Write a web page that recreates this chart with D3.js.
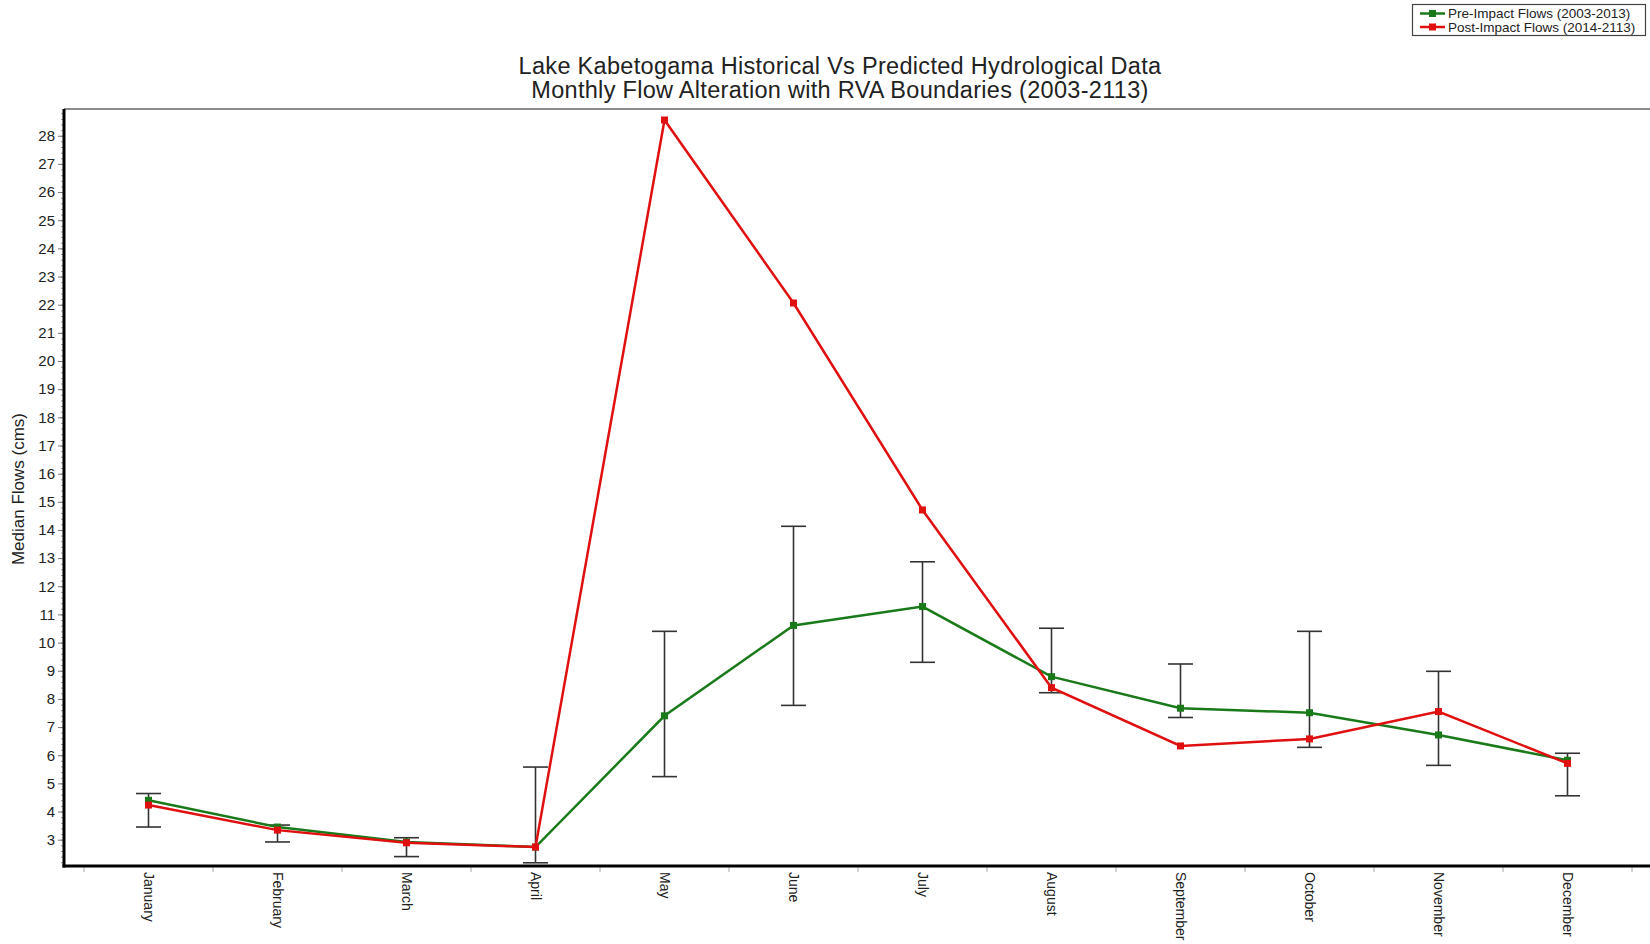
<html>
<head>
<title>Lake Kabetogama</title>
<script src="https://d3js.org/d3.v7.min.js"></script>
<style>
  body { margin: 0; background: white; }
  text { font-family: "Liberation Sans", Arial, sans-serif; fill: #222; }
  .minor line { stroke: #999; }
</style>
</head>
<body>
<svg id="chart" width="1650" height="944"></svg>
<script>
  const months = ["January","February","March","April","May","June","July","August","September","October","November","December"];
  const preFlow  = [4.40, 3.45, 2.92, 2.74, 7.40, 10.61, 11.28, 8.79, 7.67, 7.51, 6.72, 5.82];
  const postFlow = [4.23, 3.34, 2.89, 2.74, 28.56, 22.06, 14.71, 8.40, 6.33, 6.58, 7.55, 5.71];
  const rvaLow   = [3.45, 2.92, 2.40, 2.18, 5.24, 7.77, 9.30, 8.22, 7.34, 6.28, 5.64, 4.56];
  const rvaHigh  = [4.64, 3.52, 3.07, 5.58, 10.40, 14.13, 12.87, 10.51, 9.24, 10.40, 8.98, 6.07];
  const yTicks = d3.range(3, 29);
  const titleLines = ["Lake Kabetogama Historical Vs Predicted Hydrological Data",
                      "Monthly Flow Alteration with RVA Boundaries (2003-2113)"];
  const legendItems = [
    {name: "Pre-Impact Flows (2003-2013)", color: "#1a7a1a"},
    {name: "Post-Impact Flows (2014-2113)", color: "#e01010"}
  ];

  const svg = d3.select("#chart");
  const plot = {left: 64, top: 109, right: 1650, bottom: 866};

  const x = d3.scaleBand().domain(months).range([84, 1632]);
  const y = d3.scaleLinear().domain([2.066, 28.95]).range([plot.bottom, plot.top]);

  // title
  svg.append("g").selectAll("text").data(titleLines).join("text")
    .attr("x", 840).attr("y", (d, i) => 74 + i * 24)
    .attr("text-anchor", "middle")
    .style("font-size", "23.5px")
    .style("letter-spacing", "0.3px")
    .text(d => d);

  // top frame line
  svg.append("line")
    .attr("x1", plot.left).attr("x2", plot.right)
    .attr("y1", plot.top).attr("y2", plot.top)
    .attr("stroke", "#666").attr("stroke-width", 1.5);

  // minor y ticks
  svg.append("g").attr("class", "minor")
    .attr("transform", "translate(" + plot.left + ",0)")
    .call(d3.axisLeft(y).tickValues(d3.range(2.2, 28.9, 0.2)).tickSize(3).tickFormat(""))
    .call(g => g.select(".domain").remove())
    .selectAll("line").attr("stroke", "#aaa");

  // y axis
  const yAxis = svg.append("g")
    .attr("transform", "translate(" + plot.left + ",0)")
    .call(d3.axisLeft(y).tickValues(yTicks).tickSize(6).tickPadding(3).tickFormat(d3.format("d")));
  yAxis.select(".domain").remove();
  yAxis.selectAll(".tick line").attr("stroke", "#777");
  yAxis.selectAll("text").style("font-size", "15px").attr("fill", "#222");

  // x axis labels
  const xAxis = svg.append("g")
    .attr("transform", "translate(0," + plot.bottom + ")")
    .call(d3.axisBottom(x).tickSize(0).tickPadding(0));
  xAxis.select(".domain").remove();
  xAxis.selectAll("text")
    .style("font-size", "14px")
    .attr("fill", "#222")
    .attr("text-anchor", "start")
    .attr("dy", "0.35em")
    .attr("transform", "translate(0,6) rotate(90)");

  // boundary ticks on x axis
  const bounds = months.map(m => x(m)).concat([x.range()[1]]);
  svg.append("g").selectAll("line").data(bounds).join("line")
    .attr("x1", d => d).attr("x2", d => d)
    .attr("y1", plot.bottom).attr("y2", plot.bottom + 6)
    .attr("stroke", "#aaa").attr("stroke-width", 1);

  // axis lines
  svg.append("line")
    .attr("x1", plot.left).attr("x2", plot.left)
    .attr("y1", plot.top).attr("y2", plot.bottom + 1.5)
    .attr("stroke", "#000").attr("stroke-width", 3);
  svg.append("line")
    .attr("x1", plot.left - 1.5).attr("x2", plot.right)
    .attr("y1", plot.bottom).attr("y2", plot.bottom)
    .attr("stroke", "#000").attr("stroke-width", 3);

  // y label
  svg.append("text")
    .attr("transform", "translate(24,489) rotate(-90)")
    .attr("text-anchor", "middle")
    .style("font-size", "17px")
    .attr("fill", "#333")
    .text("Median Flows (cms)");

  const cx = m => x(m) + x.bandwidth() / 2;

  // RVA error bars
  const bars = svg.append("g").attr("stroke", "#333").attr("stroke-width", 1.6);
  months.forEach((m, i) => {
    bars.append("line").attr("x1", cx(m)).attr("x2", cx(m))
      .attr("y1", y(rvaLow[i])).attr("y2", y(rvaHigh[i]));
    [rvaLow[i], rvaHigh[i]].forEach(v => {
      bars.append("line").attr("x1", cx(m) - 12.5).attr("x2", cx(m) + 12.5)
        .attr("y1", y(v)).attr("y2", y(v));
    });
  });

  const line = d3.line().x((d, i) => cx(months[i])).y(d => y(d));
  const series = [
    {values: preFlow, color: legendItems[0].color},
    {values: postFlow, color: legendItems[1].color}
  ];
  series.forEach(s => {
    svg.append("path").datum(s.values)
      .attr("fill", "none").attr("stroke", s.color).attr("stroke-width", 2.5)
      .attr("d", line);
    svg.append("g").selectAll("rect").data(s.values).join("rect")
      .attr("x", (d, i) => cx(months[i]) - 3.5)
      .attr("y", d => y(d) - 3.5)
      .attr("width", 7).attr("height", 7)
      .attr("fill", s.color);
  });

  // legend
  const lg = svg.append("g");
  lg.append("rect").attr("x", 1412.5).attr("y", 4.5).attr("width", 233).attr("height", 31)
    .attr("fill", "white").attr("stroke", "#444").attr("stroke-width", 1.2);
  legendItems.forEach((it, i) => {
    const yy = 13.5 + i * 13.5;
    lg.append("line").attr("x1", 1420).attr("x2", 1445).attr("y1", yy).attr("y2", yy)
      .attr("stroke", it.color).attr("stroke-width", 2.5);
    lg.append("rect").attr("x", 1429).attr("y", yy - 3.5).attr("width", 7).attr("height", 7)
      .attr("fill", it.color);
    lg.append("text").attr("x", 1448).attr("y", yy).attr("dy", "0.35em")
      .style("font-size", "13.5px").text(it.name);
  });
</script>
</body>
</html>
